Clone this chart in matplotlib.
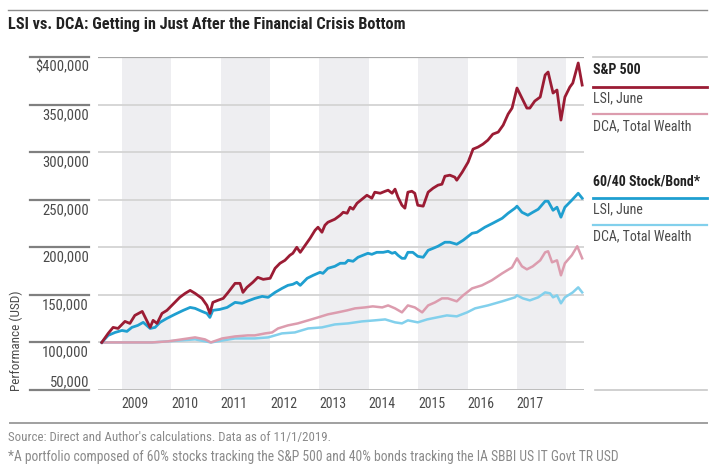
import matplotlib
matplotlib.use("Agg")
import matplotlib.pyplot as plt
from matplotlib.lines import Line2D
import matplotlib.transforms as mtransforms
from matplotlib import font_manager

# pick a narrow face if one is installed
names = set(f.name for f in font_manager.fontManager.ttflist)
narrow = None
for cand in ['Liberation Sans Narrow', 'Roboto Condensed', 'DejaVu Sans Condensed', 'Open Sans Condensed',
             'Noto Sans Condensed', 'Arial Narrow']:
    if cand in names:
        narrow = cand
        break
cond = [f for f in font_manager.fontManager.ttflist if f.stretch in ('condensed', 'semi-condensed', 600, 500)]
if narrow is None and cond:
    narrow = cond[0].name
if narrow:
    plt.rcParams['font.family'] = [narrow, 'DejaVu Sans']
    scale = 1.0
else:
    plt.rcParams['font.family'] = ['Roboto', 'DejaVu Sans']
    scale = 0.82

# data: values in thousands of USD, dates in decimal years (as on the chart axis)
sp_lsi_dates = [2008.59, 2008.72, 2008.82, 2008.92, 2009.06, 2009.16, 2009.26, 2009.41, 2009.47, 2009.57,
                2009.63, 2009.71, 2009.81, 2009.91, 2010.07, 2010.17, 2010.28, 2010.38, 2010.48, 2010.62,
                2010.72, 2010.78, 2010.84, 2010.94, 2011.05, 2011.15, 2011.29, 2011.39, 2011.45, 2011.53,
                2011.65, 2011.75, 2011.86, 2012.00, 2012.10, 2012.20, 2012.30, 2012.40, 2012.46, 2012.54,
                2012.61, 2012.71, 2012.81, 2012.91, 2012.97, 2013.05, 2013.11, 2013.17, 2013.31, 2013.42,
                2013.48, 2013.56, 2013.62, 2013.68, 2013.76, 2013.86, 2013.96, 2014.06, 2014.12, 2014.23,
                2014.33, 2014.39, 2014.47, 2014.53, 2014.59, 2014.67, 2014.73, 2014.79, 2014.87, 2014.93,
                2014.99, 2015.10, 2015.20, 2015.30, 2015.40, 2015.48, 2015.54, 2015.64, 2015.74, 2015.78,
                2015.89, 2016.01, 2016.11, 2016.21, 2016.31, 2016.41, 2016.51, 2016.62, 2016.72, 2016.82,
                2016.90, 2017.00, 2017.10, 2017.20, 2017.26, 2017.36, 2017.47, 2017.57, 2017.63, 2017.73,
                2017.81, 2017.89, 2017.97, 2018.07, 2018.13, 2018.24, 2018.32]
sp_lsi = [100.0, 109.5, 115.8, 114.7, 122.1, 120.0, 128.4, 132.6, 126.3, 115.8,
          123.2, 120.0, 130.5, 133.7, 142.1, 147.4, 151.6, 154.7, 151.6, 146.3,
          138.9, 130.5, 142.1, 144.2, 146.3, 152.6, 162.1, 162.1, 152.6, 157.9,
          163.2, 168.4, 166.3, 167.4, 177.9, 183.2, 186.3, 191.6, 193.7, 200.0,
          194.7, 202.1, 209.5, 217.9, 221.1, 215.8, 223.2, 226.3, 229.5, 233.7,
          236.8, 235.8, 242.1, 240.0, 246.3, 250.5, 254.7, 251.6, 257.9, 256.8,
          258.9, 260.0, 256.8, 261.1, 252.6, 244.2, 241.1, 257.9, 258.9, 256.8,
          244.2, 243.2, 257.9, 262.1, 265.3, 266.3, 274.7, 275.8, 273.7, 270.5,
          278.9, 289.5, 303.2, 305.3, 308.4, 312.6, 318.9, 321.1, 328.4, 340.0,
          346.3, 367.4, 356.8, 346.3, 346.3, 353.7, 357.9, 381.1, 384.2, 362.1,
          365.3, 333.7, 357.9, 368.4, 372.6, 393.7, 370.5]

sp_dca_dates = [2008.59, 2009.12, 2009.61, 2009.93, 2010.48, 2010.68, 2010.80, 2011.03, 2011.29, 2011.55,
                2011.69, 2011.90, 2012.04, 2012.16, 2012.36, 2012.56, 2012.77, 2012.97, 2013.17, 2013.37,
                2013.56, 2013.72, 2013.92, 2014.08, 2014.27, 2014.39, 2014.53, 2014.67, 2014.79, 2014.93,
                2015.08, 2015.20, 2015.34, 2015.48, 2015.60, 2015.78, 2015.91, 2016.09, 2016.29, 2016.49,
                2016.70, 2016.90, 2017.00, 2017.10, 2017.20, 2017.32, 2017.47, 2017.57, 2017.63, 2017.71,
                2017.81, 2017.89, 2017.97, 2018.11, 2018.22, 2018.32]
sp_dca = [100.0, 100.0, 100.0, 101.1, 105.3, 103.2, 100.0, 104.2, 106.3, 107.4,
          107.4, 109.5, 110.5, 114.7, 117.9, 120.0, 123.2, 126.3, 129.5, 131.6,
          133.7, 135.8, 136.8, 137.9, 136.8, 138.9, 135.8, 131.6, 138.9, 136.8,
          131.6, 138.9, 142.1, 146.3, 146.3, 143.2, 149.5, 156.8, 160.0, 165.3,
          172.6, 178.9, 188.4, 180.0, 176.8, 180.0, 186.3, 194.7, 195.8, 184.2,
          186.3, 170.5, 183.2, 191.6, 201.1, 188.4]

bal_lsi_dates = [2008.59, 2008.72, 2008.86, 2009.00, 2009.10, 2009.20, 2009.32, 2009.43, 2009.57, 2009.67,
                 2009.77, 2009.91, 2010.07, 2010.24, 2010.38, 2010.48, 2010.62, 2010.72, 2010.78, 2010.84,
                 2010.98, 2011.13, 2011.29, 2011.43, 2011.53, 2011.69, 2011.84, 2011.96, 2012.10, 2012.24,
                 2012.36, 2012.46, 2012.54, 2012.61, 2012.75, 2012.87, 2013.01, 2013.07, 2013.17, 2013.31,
                 2013.42, 2013.52, 2013.58, 2013.68, 2013.78, 2013.88, 2013.98, 2014.06, 2014.16, 2014.29,
                 2014.39, 2014.47, 2014.53, 2014.59, 2014.67, 2014.73, 2014.79, 2014.89, 2014.99, 2015.10,
                 2015.20, 2015.30, 2015.40, 2015.54, 2015.64, 2015.78, 2015.91, 2016.09, 2016.19, 2016.35,
                 2016.51, 2016.70, 2016.82, 2016.96, 2017.00, 2017.10, 2017.22, 2017.32, 2017.43, 2017.57,
                 2017.63, 2017.73, 2017.81, 2017.89, 2017.97, 2018.11, 2018.24, 2018.32]
bal_lsi = [100.0, 107.4, 110.5, 112.6, 111.6, 115.8, 117.9, 121.1, 114.7, 115.8,
           121.1, 125.3, 129.5, 133.7, 136.8, 135.8, 132.6, 130.5, 126.3, 133.7,
           134.7, 136.8, 142.1, 141.1, 143.2, 146.3, 148.4, 147.4, 152.6, 156.8,
           160.0, 161.1, 163.2, 160.0, 167.4, 170.5, 173.7, 172.6, 177.9, 180.0,
           183.2, 183.2, 186.3, 185.3, 189.5, 191.6, 193.7, 192.6, 194.7, 194.7,
           195.8, 193.7, 194.7, 191.6, 188.4, 188.4, 194.7, 194.7, 190.5, 189.5,
           196.8, 198.9, 201.1, 205.3, 205.3, 203.2, 207.4, 214.7, 215.8, 221.1,
           225.3, 230.5, 235.8, 241.1, 243.2, 236.8, 233.7, 236.8, 240.0, 248.4,
           248.4, 238.9, 242.1, 231.6, 242.1, 249.5, 256.8, 251.6]

bal_dca_dates = [2008.59, 2009.61, 2010.48, 2010.80, 2011.29, 2011.69, 2011.96, 2012.24, 2012.50, 2012.77,
                 2013.05, 2013.31, 2013.58, 2013.86, 2014.12, 2014.33, 2014.53, 2014.67, 2014.79, 2014.99,
                 2015.18, 2015.38, 2015.58, 2015.78, 2015.99, 2016.15, 2016.41, 2016.70, 2016.96, 2017.00,
                 2017.12, 2017.26, 2017.43, 2017.57, 2017.67, 2017.73, 2017.81, 2017.89, 2017.97, 2018.13,
                 2018.24, 2018.32]
bal_dca = [100.0, 100.0, 103.2, 100.0, 104.2, 104.2, 105.3, 109.5, 110.5, 114.7,
           115.8, 118.9, 120.0, 122.1, 123.2, 124.2, 121.1, 120.0, 123.2, 121.1,
           124.2, 126.3, 128.4, 127.4, 131.6, 135.8, 138.9, 143.2, 147.4, 149.5,
           146.3, 144.2, 147.4, 152.6, 151.6, 147.4, 149.5, 141.1, 147.4, 152.6,
           157.9, 152.6]

years = [2009, 2010, 2011, 2012, 2013, 2014, 2015, 2016, 2017]
shaded_years = [2009, 2011, 2013, 2015, 2017]
yticks = [50000, 100000, 150000, 200000, 250000, 300000, 350000, 400000]
ytick_labels = ['50,000', '100,000', '150,000', '200,000', '250,000', '300,000', '350,000', '$400,000']

RED = '#9b1c34'
PINK = '#dc9cae'
BLUE = '#1f9fd0'
LBLUE = '#82d0ec'
TXT = '#4a4a4a'

W, H = 720, 471
fig = plt.figure(figsize=(W / 100, H / 100), dpi=100)

def fx(px):
    return px / W

def fy(py):
    return 1 - py / H

ax = fig.add_axes([fx(98), fy(390), fx(584) - fx(98), fy(57) - fy(390)])

for y in shaded_years:
    ax.axvspan(y, y + 1, color='#eeeef1', lw=0, zorder=0)

for v in yticks[1:-1]:
    ax.axhline(v, color='#d6d6d6', lw=1.4, zorder=1)
ax.axhline(400000, color='#a6a6a6', lw=1.6, zorder=1)
ax.axhline(50000, color='#bdbdbd', lw=1.4, zorder=1)

ax.plot(bal_dca_dates, [v * 1000 for v in bal_dca], color=LBLUE, lw=1.8, zorder=3)
ax.plot(sp_dca_dates, [v * 1000 for v in sp_dca], color=PINK, lw=1.8, zorder=3)
ax.plot(bal_lsi_dates, [v * 1000 for v in bal_lsi], color=BLUE, lw=2.0, zorder=4)
ax.plot(sp_lsi_dates, [v * 1000 for v in sp_lsi], color=RED, lw=2.0, zorder=5)

ax.set_xlim(2008.514, 2018.357)
ax.set_ylim(50000, 400000)
for s in ax.spines.values():
    s.set_visible(False)

ax.set_xticks([y + 0.27 for y in years])
ax.set_xticklabels([str(y) for y in years], fontsize=10 * scale, color=TXT)
ax.tick_params(axis='x', length=0, pad=5)
ax.set_yticks([])

# y labels sit just under their gridline, with a dark stub to the left
trans = mtransforms.blended_transform_factory(ax.transAxes, ax.transData)
for v, lab in zip(yticks, ytick_labels):
    ax.plot([-0.14, -0.0185], [v, v], transform=trans, color='#808080', lw=1.6, clip_on=False)
    off = 5.8 if v == 50000 else -7.4
    ax.annotate(lab, xy=(-0.0185, v), xycoords=trans, xytext=(0, off), textcoords='offset points',
                ha='right', va='center', fontsize=10.5 * scale, color=TXT)

fig.text(fx(16), fy(341), 'Performance (USD)', rotation=90, ha='center', va='center',
         fontsize=9.5 * scale, color=TXT)

# title and rules
fig.add_artist(Line2D([fx(8), fx(707)], [fy(10), fy(10)], color='#8c8c8c', lw=1.0))
fig.text(fx(8), fy(25), 'LSI vs. DCA: Getting in Just After the Financial Crisis Bottom',
         fontsize=11.7 * scale, fontweight='bold', color='#222222', va='center')

# legend at the right
fig.add_artist(Line2D([fx(593), fx(707)], [fy(57), fy(57)], color='#c8c8c8', lw=1.2))
fig.text(fx(593), fy(70), 'S&P 500', fontsize=10 * scale, fontweight='bold', color='#222222', va='center')
fig.add_artist(Line2D([fx(593), fx(707)], [fy(87), fy(87)], color=RED, lw=2.0))
fig.text(fx(593), fy(98), 'LSI, June', fontsize=10 * scale, color=TXT, va='center')
fig.add_artist(Line2D([fx(593), fx(707)], [fy(114), fy(114)], color=PINK, lw=1.6))
fig.text(fx(593), fy(126), 'DCA, Total Wealth', fontsize=10 * scale, color=TXT, va='center')
fig.text(fx(593), fy(182), '60/40 Stock/Bond*', fontsize=10 * scale, fontweight='bold', color='#222222',
         va='center')
fig.add_artist(Line2D([fx(593), fx(707)], [fy(198), fy(198)], color=BLUE, lw=2.0))
fig.text(fx(593), fy(209), 'LSI, June', fontsize=10 * scale, color=TXT, va='center')
fig.add_artist(Line2D([fx(593), fx(707)], [fy(225), fy(225)], color=LBLUE, lw=1.6))
fig.text(fx(593), fy(236), 'DCA, Total Wealth', fontsize=10 * scale, color=TXT, va='center')
fig.add_artist(Line2D([fx(595), fx(707)], [fy(390), fy(390)], color='#c8c8c8', lw=1.2))

# footer
fig.add_artist(Line2D([fx(10), fx(707)], [fy(423), fy(423)], color='#a0a0a0', lw=1.4))
fig.text(fx(8), fy(437), "Source: Direct and Author's calculations. Data as of 11/1/2019.",
         fontsize=9.3 * scale, color='#8a8a8a', va='center')
fig.text(fx(8), fy(457), '*A portfolio composed of 60% stocks tracking the S&P 500 and 40% bonds '
         'tracking the IA SBBI US IT Govt TR USD', fontsize=9.8 * scale, color='#8a8a8a', va='center')

fig.savefig('out.png', dpi=100)
